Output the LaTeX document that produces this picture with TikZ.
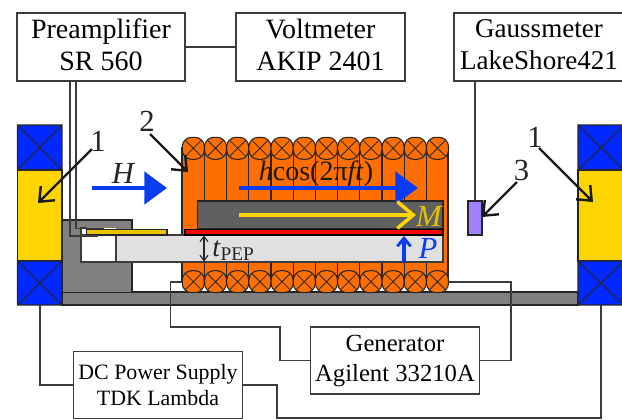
\documentclass[tikz,border=0pt]{standalone}
\usepackage{fontspec}
\setmainfont{Liberation Serif}
\usetikzlibrary{arrows.meta}
\definecolor{lineC}{HTML}{3C3C3C}
\definecolor{magBlue}{HTML}{0028FF}
\definecolor{arrBlue}{HTML}{0A3CF0}
\definecolor{magYellow}{HTML}{FFD500}
\definecolor{coilOr}{HTML}{FF6E00}
\definecolor{baseGray}{HTML}{808080}
\definecolor{filmGray}{HTML}{606060}
\definecolor{pepGray}{HTML}{E0E0E0}
\definecolor{stripY}{HTML}{EBC200}
\definecolor{sensor}{HTML}{A080FF}
\tikzset{
 x=0.75pt,y=-0.75pt,
 part/.style={draw=black!85,line width=0.8pt},
 wire/.style={draw=lineC,line width=0.85pt},
 instr/.style={draw=lineC,line width=0.9pt,fill=white,align=center,inner sep=0pt},
 callout/.style={draw=black!90,line width=1.8pt,-{Straight Barb[length=9pt,width=15pt,line width=1.8pt]}},
 numlabel/.style={font=\fontsize{23}{23}\selectfont,text=black!85,inner sep=0pt},
 field/.style={draw=arrBlue,line width=3.6pt,-{Triangle[length=17pt,width=24pt]}},
}
\newcommand{\xbox}[4]{% x1 y1 x2 y2
 \fill[magBlue] (#1,#2) rectangle (#3,#4);
 \draw[part] (#1,#2) rectangle (#3,#4) (#1,#2) -- (#3,#4) (#1,#4) -- (#3,#2);}
\newcommand{\lowerpad}{\rule[-3pt]{0pt}{3pt}}
\begin{document}
\begin{tikzpicture}
\useasboundingbox (0,0) rectangle (622,419);
\clip (0,0) rectangle (622,419);
% base and holder
\fill[baseGray] (62,292) rectangle (578,305);
\draw[part] (62,292) rectangle (578,305);
\fill[baseGray] (62,220) rectangle (132,292);
\draw[part] (62,292) -- (62,220) -- (132,220) -- (132,292);
% left magnet
\xbox{17.5}{125}{62}{170}
\draw[part,fill=magYellow] (17.5,170) rectangle (62,261);
\xbox{17.5}{261}{62}{305}
% right magnet
\xbox{578}{125}{624}{170}
\draw[part,fill=magYellow] (578,170) rectangle (624,261);
\xbox{578}{261}{624}{305}
% coil body
\draw[part,fill=coilOr] (182,148) rectangle (448,282);
\foreach \k in {0,...,10} {
 \pgfmathsetmacro{\lx}{204.4+22.2*\k}
 \draw[part] (\lx,148) -- (\lx,201) (\lx,262) -- (\lx,282);
 \fill[black] (\lx,148) circle (1.4) (\lx,282) circle (1.4);
}
\foreach \k in {0,...,11} {
 \pgfmathsetmacro{\cx}{193.3+22.2*\k}
 \foreach \cy in {148.3,281.7} {
  \draw[part,fill=coilOr,rounded corners=7] (\cx-11,\cy-11) rectangle (\cx+11,\cy+11);
  \draw[part,line width=0.6pt] (\cx-7.6,\cy-7.6) -- (\cx+7.6,\cy+7.6) (\cx-7.6,\cy+7.6) -- (\cx+7.6,\cy-7.6);
 }
}
% sample
\fill[white] (81,228) rectangle (116,262);
\draw[part,draw=lineC] (87,235) -- (81,235) -- (81,262) -- (116,262);
\draw[part,draw=lineC] (81,235) -- (81,228) -- (87,228);
\draw[part,draw=lineC,fill=pepGray] (116,235) rectangle (443,262);
\draw[part,fill=stripY] (86.7,229.5) rectangle (167,235);
\draw[part,fill=filmGray] (197.7,201) rectangle (443,229);
\draw[line width=1pt,draw=black,fill=red] (185,229.5) rectangle (443,235);
% instruments
\node[instr,minimum width=168pt*0.75,minimum height=68pt*0.75,font=\fontsize{21}{24}\selectfont] (pre) at (101,47) {Preamplifier\\SR 560\lowerpad};
\node[instr,minimum width=169pt*0.75,minimum height=68pt*0.75,font=\fontsize{21}{24}\selectfont] (volt) at (320.5,47) {Voltmeter\\AKIP 2401\lowerpad};
\node[instr,minimum width=170pt*0.75,minimum height=68pt*0.75,font=\fontsize{20.3}{24}\selectfont] (gauss) at (539,47) {Gaussmeter\\LakeShore421\lowerpad};
\node[instr,minimum width=169pt*0.75,minimum height=67pt*0.75,font=\fontsize{18.5}{22.5}\selectfont] (gen) at (395,360.5) {Generator\\Agilent 33210A};
\node[instr,minimum width=169pt*0.75,minimum height=67pt*0.75,font=\fontsize{16.4}{19}\selectfont] (dc) at (158,385) {DC Power Supply\\TDK Lambda};
\node[draw=black!85,line width=0.8pt,fill=sensor,minimum width=14pt*0.75,minimum height=34pt*0.75,inner sep=0pt] (probe) at (475,218) {};
% wiring
\draw[wire] (pre) -- (volt);
\draw[wire] (gauss.south -| probe.north) -- (probe.north);
\coordinate (w1) at (70,81); \coordinate (w1a) at (70,236); \coordinate (w1b) at (98,236);
\coordinate (w2) at (76,81); \coordinate (w2a) at (76,228.3); \coordinate (w2b) at (104,228.3);
\draw[wire] (w1) -- (w1a) -- (w1b);
\draw[wire] (w2) -- (w2a) -- (w2b);
\coordinate (cL) at (182,282); \coordinate (cR) at (448,282);
\draw[wire] (cL) -- (170.6,282) -- (170.6,327) -- (280,327) |- (gen.west);
\draw[wire] (gen.east) -| (511,282) -- (cR);
\coordinate (mL) at (40,305); \coordinate (mR) at (601,305);
\draw[wire] (mL) |- (dc.west);
\draw[wire] (dc.east) -- (277,385) -- (277,418) -- (601,418) -- (mR);
% fields
\coordinate (hA) at (92,188); \coordinate (hB) at (167,188);
\draw[field] (hA) -- (hB);
\node[font=\fontsize{23}{23}\selectfont\itshape,text=black!85,inner sep=0pt] (hlab) at (123,173) {H};
\coordinate (acA) at (239,188); \coordinate (acB) at (418,188);
\draw[field] (acA) -- (acB);
\node[font=\fontsize{21}{21}\selectfont,text=black!90,inner sep=0pt] (aclab) at (316,174) {\textit{h}cos(2π\textit{ft})};
\coordinate (mA) at (239,215); \coordinate (mB) at (416,215);
\draw[draw=magYellow,line width=2.6pt,-{Straight Barb[length=12pt,width=20pt,line width=2.6pt]}] (mA) -- (mB);
\node[font=\fontsize{23}{23}\selectfont\itshape,text=magYellow!90!black,inner sep=0pt] (mlab) at (429,216) {M};
\coordinate (pA) at (404,262); \coordinate (pB) at (404,236);
\draw[draw=arrBlue,line width=2.6pt,-{Straight Barb[length=6pt,width=10pt,line width=2.2pt]}] (pA) -- (pB);
\node[font=\fontsize{23}{23}\selectfont\itshape,text=arrBlue,inner sep=0pt] (plab) at (428,248) {P};
\coordinate (tA) at (204,235.5); \coordinate (tB) at (204,261.5);
\draw[draw=black!85,line width=0.8pt,{Straight Barb[length=4pt,width=6pt]}-{Straight Barb[length=4pt,width=6pt]}] (tA) -- (tB);
\node[anchor=base west,inner sep=0pt,text=black!85] (tlab) at (212,256) {\fontsize{21}{21}\selectfont\textit{t}\raisebox{-3pt}{\fontsize{14.5}{14.5}\selectfont PEP}};
% callouts
\node[numlabel] (n1l) at (98,141) {1};
\coordinate (e1l) at (38,203);
\draw[callout] (92,149) -- (e1l);
\node[numlabel] (n2) at (147,121) {2};
\coordinate (e2) at (188,172);
\draw[callout] (150,134) -- (e2);
\node[numlabel] (n3) at (521.5,170) {3};
\coordinate (e3) at (482,217);
\draw[callout] (517,182) -- (e3);
\node[numlabel] (n1r) at (535,137) {1};
\coordinate (e1r) at (593,202);
\draw[callout] (539,148) -- (e1r);
\end{tikzpicture}
\end{document}
